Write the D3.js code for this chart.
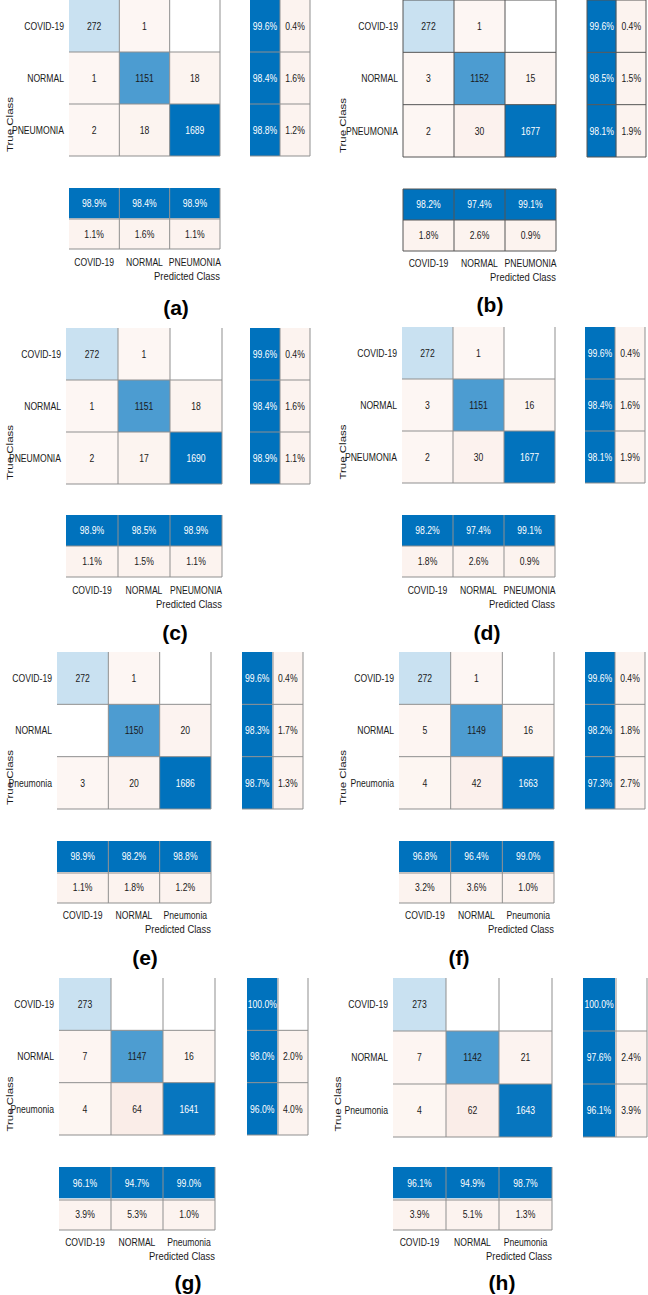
<!DOCTYPE html>
<html><head><meta charset="utf-8">
<script src="https://cdn.jsdelivr.net/npm/d3@7/dist/d3.min.js"></script>
<style>
html,body{margin:0;padding:0;background:#fff;}
svg{display:block;}
text{font-family:"Liberation Sans",Arial,Helvetica,sans-serif;}
</style></head>
<body>
<svg id="chart" width="648" height="1295"></svg>
<script>
// ---- data ----
const panelIds = ["a","b","c","d","e","f","g","h"];
const colClassesUpper = ["COVID-19","NORMAL","PNEUMONIA"];
const colClassesMixed = ["COVID-19","NORMAL","Pneumonia"];
const countsA = [[272,1,0],[1,1151,18],[2,18,1689]];
const countsB = [[272,1,0],[3,1152,15],[2,30,1677]];
const countsC = [[272,1,0],[1,1151,18],[2,17,1690]];
const countsD = [[272,1,0],[3,1151,16],[2,30,1677]];
const countsE = [[272,1,0],[0,1150,20],[3,20,1686]];
const countsF = [[272,1,0],[5,1149,16],[4,42,1663]];
const countsG = [[273,0,0],[7,1147,16],[4,64,1641]];
const countsH = [[273,0,0],[7,1142,21],[4,62,1643]];
const panelCounts = [countsA,countsB,countsC,countsD,countsE,countsF,countsG,countsH];
const panelClasses = [colClassesUpper,colClassesUpper,colClassesUpper,colClassesUpper,colClassesMixed,colClassesMixed,colClassesMixed,colClassesMixed];
const xAxisTitle = "Predicted Class";
const yAxisTitle = "True Class";

// ---- layout (positions only) ----
const layout = [
 {x0:69, x1:220, y0:0,   y1:156, r:[250,280,310], s:[188,219,249], ly:262, tx:176, ty:307, ax:9,   boxed:false},
 {x0:403,x1:556, y0:0,   y1:157, r:[587,616,646], s:[189,220,251], ly:263, tx:490, ty:304, ax:342, boxed:true},
 {x0:66, x1:222, y0:328, y1:484, r:[250,280,310], s:[515,546,577], ly:590, tx:175, ty:632, ax:9,   boxed:false},
 {x0:402,x1:555, y0:327, y1:483, r:[585,615,645], s:[515,546,577], ly:590, tx:487, ty:632, ax:342, boxed:false},
 {x0:57, x1:211, y0:652, y1:809, r:[242,273,303], s:[841,873,903], ly:915, tx:145, ty:957, ax:9,   boxed:false},
 {x0:399,x1:554, y0:652, y1:809, r:[585,615,645], s:[841,873,903], ly:915, tx:459, ty:957, ax:342, boxed:false},
 {x0:59, x1:215, y0:978, y1:1135,r:[247,278,308], s:[1167,1200,1230], ly:1242, tx:188, ty:1282, ax:9, boxed:false},
 {x0:393,x1:552, y0:978, y1:1137,r:[583,616,647], s:[1167,1200,1230], ly:1242, tx:502, ty:1282, ax:337, boxed:false}
];

const svg = d3.select("#chart");
const BLUE = "#0072BD";
const diagColor = d3.scaleLinear().domain([-105, 1689]).range(["#ffffff", BLUE]).clamp(true);
const offColor = d3.scaleLinear().domain([1, 64]).range(["#fdf6f3", "#faede8"]).clamp(true);
const errPink = "#fcf3ef";
const fmtPct = d3.format(".1%");
const SX = 0.82; // horizontal text compression of the original image
const gridCol = "#8f8f8f", boxCol = "#555";

function txt(g, x, y, s, opts){
  opts = opts || {};
  const t = g.append("text")
    .attr("transform", `translate(${x},${y}) scale(${opts.sx||SX},1)` + (opts.rot?` rotate(${opts.rot})`:""))
    .attr("text-anchor", opts.anchor||"middle")
    .attr("dominant-baseline","central")
    .attr("font-size", opts.size||10.5)
    .attr("fill", opts.fill||"#1a1a1a")
    .text(s);
  if (opts.bold) t.attr("font-weight","bold");
  return t;
}

function cell(g, x, y, w, h, fill){
  g.append("rect").attr("x",x).attr("y",y).attr("width",w).attr("height",h).attr("fill",fill);
}
function gridLines(g, xs, ys, boxed){
  const x0 = xs[0], x1 = xs[xs.length-1], y0 = ys[0], y1 = ys[ys.length-1];
  const col = boxed?boxCol:gridCol;
  const vx = boxed? xs : xs.slice(1);
  const hy = boxed? ys : ys.slice(1);
  vx.forEach(x => g.append("line").attr("x1",x).attr("x2",x).attr("y1",y0).attr("y2",y1).attr("stroke",col).attr("stroke-width",1));
  hy.forEach(y => g.append("line").attr("x1",x0).attr("x2",x1).attr("y1",y).attr("y2",y).attr("stroke",col).attr("stroke-width",1));
}

panelIds.forEach((id, pi) => {
  const L = layout[pi];
  const counts = panelCounts[pi];
  const classes = panelClasses[pi];
  const g = svg.append("g");
  const x = d3.scaleBand().domain(classes).range([L.x0, L.x1]);
  const y = d3.scaleBand().domain(classes).range([L.y0, L.y1]);
  const rowSums = counts.map(r => d3.sum(r));
  const colSums = classes.map((c, j) => d3.sum(counts, r => r[j]));

  // matrix cells
  counts.forEach((row, i) => row.forEach((v, j) => {
    let fill;
    if (i === j) fill = diagColor(v);
    else fill = v === 0 ? "#ffffff" : offColor(v);
    cell(g, x(classes[j]), y(classes[i]), x.bandwidth(), y.bandwidth(), fill);
  }));
  const xs = classes.map(c => x(c)).concat([L.x1]);
  const ys = classes.map(c => y(c)).concat([L.y1]);
  gridLines(g, xs, ys, L.boxed);
  counts.forEach((row, i) => row.forEach((v, j) => {
    if (v === 0) return;
    const frac = i === j ? (v + 105) / (1689 + 105) : 0;
    txt(g, x(classes[j]) + x.bandwidth()/2, y(classes[i]) + y.bandwidth()/2, v,
        {fill: frac > 0.85 ? "#ffffff" : "#1a1a1a"});
  }));

  // row labels
  classes.forEach(c => txt(g, L.x0 - 5, y(c) + y.bandwidth()/2, c, {anchor:"end"}));

  // row summary (recall)
  const rx = d3.scaleBand().domain(["ok","err"]).range([L.r[0], L.r[2]]);
  counts.forEach((row, i) => {
    const err = (rowSums[i] - row[i]) / rowSums[i];
    const yy = y(classes[i]);
    cell(g, rx("ok"), yy, rx.bandwidth(), y.bandwidth(), BLUE);
    cell(g, rx("err"), yy, rx.bandwidth(), y.bandwidth(), err > 0 ? errPink : "#ffffff");
  });
  gridLines(g, [L.r[0], L.r[1], L.r[2]], ys, L.boxed);
  counts.forEach((row, i) => {
    const ok = row[i] / rowSums[i], err = (rowSums[i] - row[i]) / rowSums[i];
    const cy = y(classes[i]) + y.bandwidth()/2;
    txt(g, rx("ok") + rx.bandwidth()/2, cy, fmtPct(ok), {fill:"#ffffff"});
    if (err > 0) txt(g, rx("err") + rx.bandwidth()/2, cy, fmtPct(err));
  });

  // column summary (precision)
  const sy = d3.scaleBand().domain(["ok","err"]).range([L.s[0], L.s[2]]);
  classes.forEach((c, j) => {
    const err = (colSums[j] - counts[j][j]) / colSums[j];
    cell(g, x(c), sy("ok"), x.bandwidth(), sy.bandwidth(), BLUE);
    cell(g, x(c), sy("err"), x.bandwidth(), sy.bandwidth(), err > 0 ? errPink : "#ffffff");
  });
  gridLines(g, xs, [L.s[0], L.s[1], L.s[2]], L.boxed);
  classes.forEach((c, j) => {
    const ok = counts[j][j] / colSums[j], err = (colSums[j] - counts[j][j]) / colSums[j];
    const cx = x(c) + x.bandwidth()/2;
    txt(g, cx, sy("ok") + sy.bandwidth()/2, fmtPct(ok), {fill:"#ffffff"});
    if (err > 0) txt(g, cx, sy("err") + sy.bandwidth()/2, fmtPct(err));
  });

  // column labels and axis titles
  classes.forEach(c => txt(g, x(c) + x.bandwidth()/2, L.ly, c));
  txt(g, L.x1, L.ly + 14, xAxisTitle, {anchor:"end", size:11.5});
  txt(g, L.ax, (L.y0 + L.s[2]) / 2, yAxisTitle, {size:11.5, rot:-90});

  // panel tag
  txt(g, L.tx, L.ty, `(${id})`, {size:21, bold:true, sx:1, fill:"#000"});
});
</script>
</body></html>
